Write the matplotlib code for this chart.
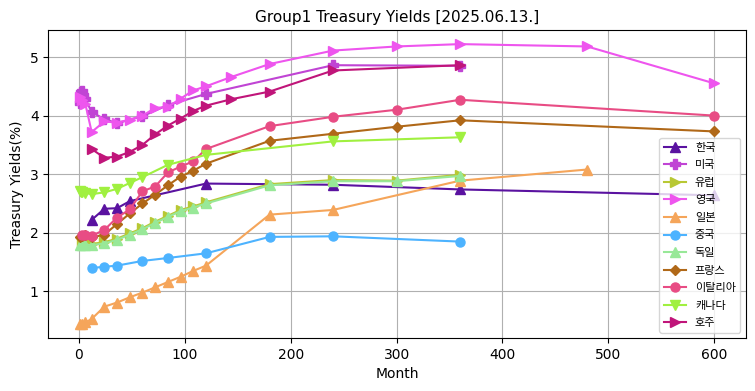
import matplotlib
matplotlib.use("Agg")
import matplotlib.pyplot as plt

plt.rcParams['font.family'] = ['DejaVu Sans', 'Noto Sans CJK KR']

kr_m = [12, 24, 36, 48, 120, 240, 360, 600]
kr_v = [2.22, 2.41, 2.42, 2.54, 2.84, 2.82, 2.74, 2.64]

us_m = [1, 2, 3, 4, 6, 12, 24, 36, 60, 84, 120, 240, 360]
us_v = [4.22, 4.40, 4.42, 4.36, 4.28, 4.06, 3.94, 3.87, 3.99, 4.18, 4.37, 4.86, 4.85]

eu_m = [3, 6, 12, 24, 36, 48, 60, 72, 84, 96, 108, 120, 180, 240, 300, 360]
eu_v = [1.82, 1.84, 1.81, 1.84, 1.90, 1.99, 2.08, 2.19, 2.29, 2.39, 2.45, 2.52, 2.83, 2.90, 2.89, 2.99]

uk_m = [1, 3, 6, 12, 24, 36, 48, 60, 72, 84, 96, 108, 120, 144, 180, 240, 300, 360, 480, 600]
uk_v = [4.32, 4.27, 4.20, 3.72, 3.90, 3.88, 3.93, 4.00, 4.13, 4.15, 4.29, 4.43, 4.50, 4.66, 4.88, 5.11, 5.18, 5.22, 5.18, 4.55]

jp_m = [1, 3, 6, 12, 24, 36, 48, 60, 72, 84, 96, 108, 120, 180, 240, 360, 480]
jp_v = [0.44, 0.45, 0.47, 0.53, 0.74, 0.81, 0.90, 0.98, 1.07, 1.16, 1.25, 1.35, 1.44, 2.31, 2.39, 2.89, 3.08]

cn_m = [12, 24, 36, 60, 84, 120, 180, 240, 360]
cn_v = [1.40, 1.42, 1.44, 1.52, 1.57, 1.65, 1.93, 1.94, 1.85]

de_m = [1, 3, 6, 12, 24, 36, 48, 60, 72, 84, 96, 108, 120, 180, 240, 300, 360]
de_v = [1.80, 1.79, 1.80, 1.79, 1.82, 1.88, 1.97, 2.06, 2.17, 2.27, 2.37, 2.43, 2.50, 2.81, 2.88, 2.88, 2.97]

fr_m = [1, 3, 6, 12, 24, 36, 48, 60, 72, 84, 96, 108, 120, 180, 240, 300, 360, 600]
fr_v = [1.93, 1.95, 1.97, 1.92, 1.97, 2.15, 2.33, 2.50, 2.65, 2.81, 2.96, 3.06, 3.18, 3.57, 3.69, 3.81, 3.92, 3.73]

it_m = [3, 6, 12, 24, 36, 48, 60, 72, 84, 96, 108, 120, 180, 240, 300, 360, 600]
it_v = [1.96, 1.97, 1.95, 2.05, 2.26, 2.40, 2.71, 2.79, 3.03, 3.13, 3.22, 3.43, 3.82, 3.98, 4.10, 4.27, 4.00]

ca_m = [1, 2, 3, 6, 12, 24, 36, 48, 60, 84, 120, 240, 360]
ca_v = [2.72, 2.70, 2.69, 2.68, 2.66, 2.69, 2.75, 2.85, 2.95, 3.16, 3.33, 3.56, 3.63]

au_m = [12, 24, 36, 48, 60, 72, 84, 96, 108, 120, 144, 180, 240, 360]
au_v = [3.43, 3.28, 3.30, 3.38, 3.50, 3.68, 3.83, 3.95, 4.08, 4.17, 4.28, 4.41, 4.77, 4.86]

labels = ['한국', '미국', '유럽', '영국', '일본', '중국', '독일', '프랑스', '이탈리아', '캐나다', '호주']
colors = ['#5a12a0', '#c044d4', '#b8c834', '#ee55ee', '#f5a55a', '#4db3ff',
          '#98e898', '#b06818', '#e84c84', '#a0f040', '#c0157a']
markers = ['^', 'P', '>', '>', '^', 'o', '^', 'D', 'o', 'v', '>']
series = [(kr_m, kr_v), (us_m, us_v), (eu_m, eu_v), (uk_m, uk_v), (jp_m, jp_v),
          (cn_m, cn_v), (de_m, de_v), (fr_m, fr_v), (it_m, it_v), (ca_m, ca_v), (au_m, au_v)]

fig = plt.figure(figsize=(7.55, 3.91), dpi=100)
ax = fig.add_axes([0.064, 0.135, 0.924, 0.788])
for (m, v), lab, c, mk in zip(series, labels, colors, markers):
    ms = 5.5 if mk == 'D' else 6.5
    ax.plot(m, v, marker=mk, color=c, label=lab, linewidth=1.5, markersize=ms)

ax.set_title('Group1 Treasury Yields [2025.06.13.]', fontsize=11)
ax.set_xlabel('Month')
ax.set_ylabel('Treasury Yields(%)')
ax.set_xticks([0, 100, 200, 300, 400, 500, 600])
ax.set_yticks([1, 2, 3, 4, 5])
ax.grid(True)
ax.legend(loc='lower right', fontsize=8, labelspacing=0.68)
fig.savefig('out.png', dpi=100)
